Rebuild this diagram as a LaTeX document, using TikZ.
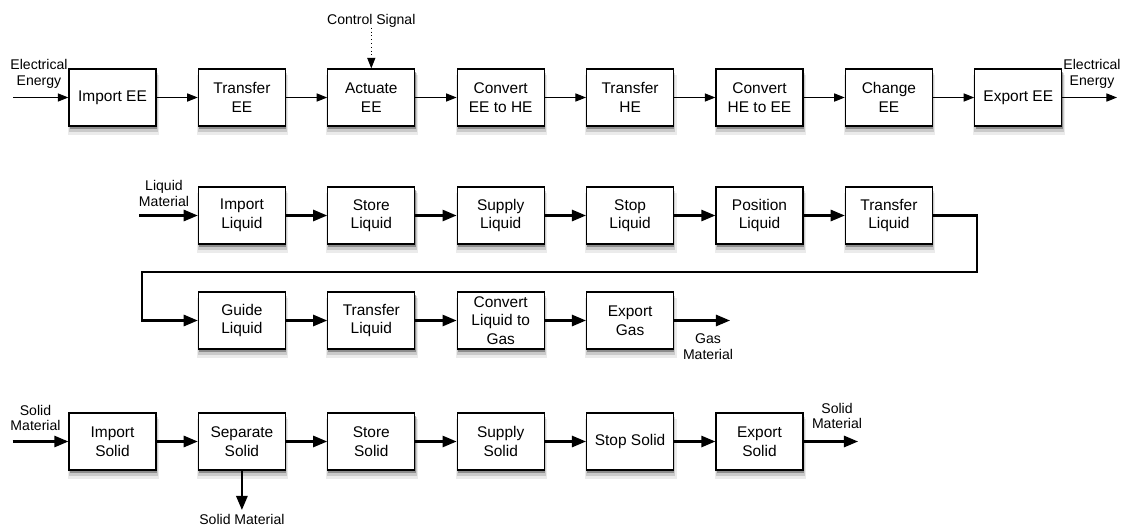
\documentclass[tikz,border=0pt]{standalone}
\usepackage{fontspec}
\setmainfont{Liberation Sans}
\usetikzlibrary{arrows.meta, shadows}
\newcommand{\boxfont}{\fontsize{11}{13.2}\selectfont}
\newcommand{\lblfont}{\fontsize{10}{11}\selectfont}

\begin{document}
\begin{tikzpicture}[x=0.025cm, y=-0.025cm,
    fnbox/.style={draw, fill=white, line width=0.9pt, minimum width=2.175cm,
      minimum height=1.425cm, inner sep=1pt, align=center, font=\boxfont,
      general shadow={fill=black, opacity=0.08, shadow yshift=-5pt, shadow xshift=0.5pt, shadow scale=1.05},
      general shadow={fill=black, opacity=0.14, shadow yshift=-3.5pt, shadow xshift=0.5pt, shadow scale=1.025},
      general shadow={fill=black, opacity=0.3, shadow yshift=-2pt, shadow xshift=0.5pt}},
    lbl/.style={font=\lblfont, align=center, inner sep=0pt},
    thinflow/.style={-{Triangle[length=7.5pt,width=5.8pt]}, line width=0.7pt},
    flow/.style={-{Triangle[length=10pt,width=8pt]}, line width=1.5pt}]
  \useasboundingbox (0,0) rectangle (1122,527);
  % electrical energy
  \node[fnbox] (ee1) at (112.5,97.5) {Import EE};
  \node[fnbox] (ee2) at (241.9,97.5) {Transfer\\EE};
  \node[fnbox] (ee3) at (371.3,97.5) {Actuate\\EE};
  \node[fnbox] (ee4) at (500.7,97.5) {Convert\\EE to HE};
  \node[fnbox] (ee5) at (630.1,97.5) {Transfer\\HE};
  \node[fnbox] (ee6) at (759.5,97.5) {Convert\\HE to EE};
  \node[fnbox] (ee7) at (888.9,97.5) {Change\\EE};
  \node[fnbox] (ee8) at (1018.3,97.5) {Export EE};
  \coordinate (eeIn) at (13,97.5); \coordinate (eeOut) at (1117,97.5);
  \node[lbl] (eeInLbl) at (39,74) {Electrical\\Energy};
  \node[lbl] (eeOutLbl) at (1092,74) {Electrical\\Energy};
  \node[lbl] (ctrl) at (371.3,21) {Control Signal};
  \draw[thinflow] (eeIn) -- (ee1);
  \foreach \a/\b in {ee1/ee2, ee2/ee3, ee3/ee4, ee4/ee5, ee5/ee6, ee6/ee7, ee7/ee8}
    \draw[thinflow] (\a) -- (\b);
  \draw[thinflow] (ee8) -- (eeOut);
  \draw[thinflow, dotted] (ctrl) -- (ee3);
  % liquid material
  \node[fnbox] (lq1) at (241.9,215.5) {Import\\Liquid};
  \node[fnbox] (lq2) at (371.3,215.5) {Store\\Liquid};
  \node[fnbox] (lq3) at (500.7,215.5) {Supply\\Liquid};
  \node[fnbox] (lq4) at (630.1,215.5) {Stop\\Liquid};
  \node[fnbox] (lq5) at (759.5,215.5) {Position\\Liquid};
  \node[fnbox] (lq6) at (888.9,215.5) {Transfer\\Liquid};
  \node[fnbox] (lq7) at (241.9,320.5) {Guide\\Liquid};
  \node[fnbox] (lq8) at (371.3,320.5) {Transfer\\Liquid};
  \node[fnbox] (lq9) at (500.7,320.5) {Convert\\Liquid to\\Gas};
  \node[fnbox] (lq10) at (630.1,320.5) {Export\\Gas};
  \coordinate (lqIn) at (139,215.5); \coordinate (gasOut) at (730,320.5);
  \coordinate (loopR) at (977,272); \coordinate (loopL) at (142,272);
  \node[lbl] (lqInLbl) at (164,193.5) {Liquid\\Material};
  \node[lbl] (gasLbl) at (708,346.5) {Gas\\Material};
  \draw[flow] (lqIn) -- (lq1);
  \foreach \a/\b in {lq1/lq2, lq2/lq3, lq3/lq4, lq4/lq5, lq5/lq6, lq7/lq8, lq8/lq9, lq9/lq10}
    \draw[flow] (\a) -- (\b);
  \draw[flow] (lq6) -| (loopR) -- (loopL) |- (lq7);
  \draw[flow] (lq10) -- (gasOut);
  % solid material
  \node[fnbox] (sd1) at (112.5,441.5) {Import\\Solid};
  \node[fnbox] (sd2) at (241.9,441.5) {Separate\\Solid};
  \node[fnbox] (sd3) at (371.3,441.5) {Store\\Solid};
  \node[fnbox] (sd4) at (500.7,441.5) {Supply\\Solid};
  \node[fnbox] (sd5) at (630.1,441.5) {Stop Solid};
  \node[fnbox] (sd6) at (759.5,441.5) {Export\\Solid};
  \coordinate (sdIn) at (12.5,441.5); \coordinate (sdOut) at (858,441.5);
  \coordinate (sdDown) at (241.9,510);
  \node[lbl] (sdInLbl) at (35.5,418) {Solid\\Material};
  \node[lbl] (sdOutLbl) at (837,416) {Solid\\Material};
  \node[lbl] (sdDownLbl) at (241.9,519) {Solid Material};
  \draw[flow] (sdIn) -- (sd1);
  \foreach \a/\b in {sd1/sd2, sd2/sd3, sd3/sd4, sd4/sd5, sd5/sd6}
    \draw[flow] (\a) -- (\b);
  \draw[flow] (sd6) -- (sdOut);
  \draw[flow] (sd2) -- (sdDown);
\end{tikzpicture}
\end{document}
